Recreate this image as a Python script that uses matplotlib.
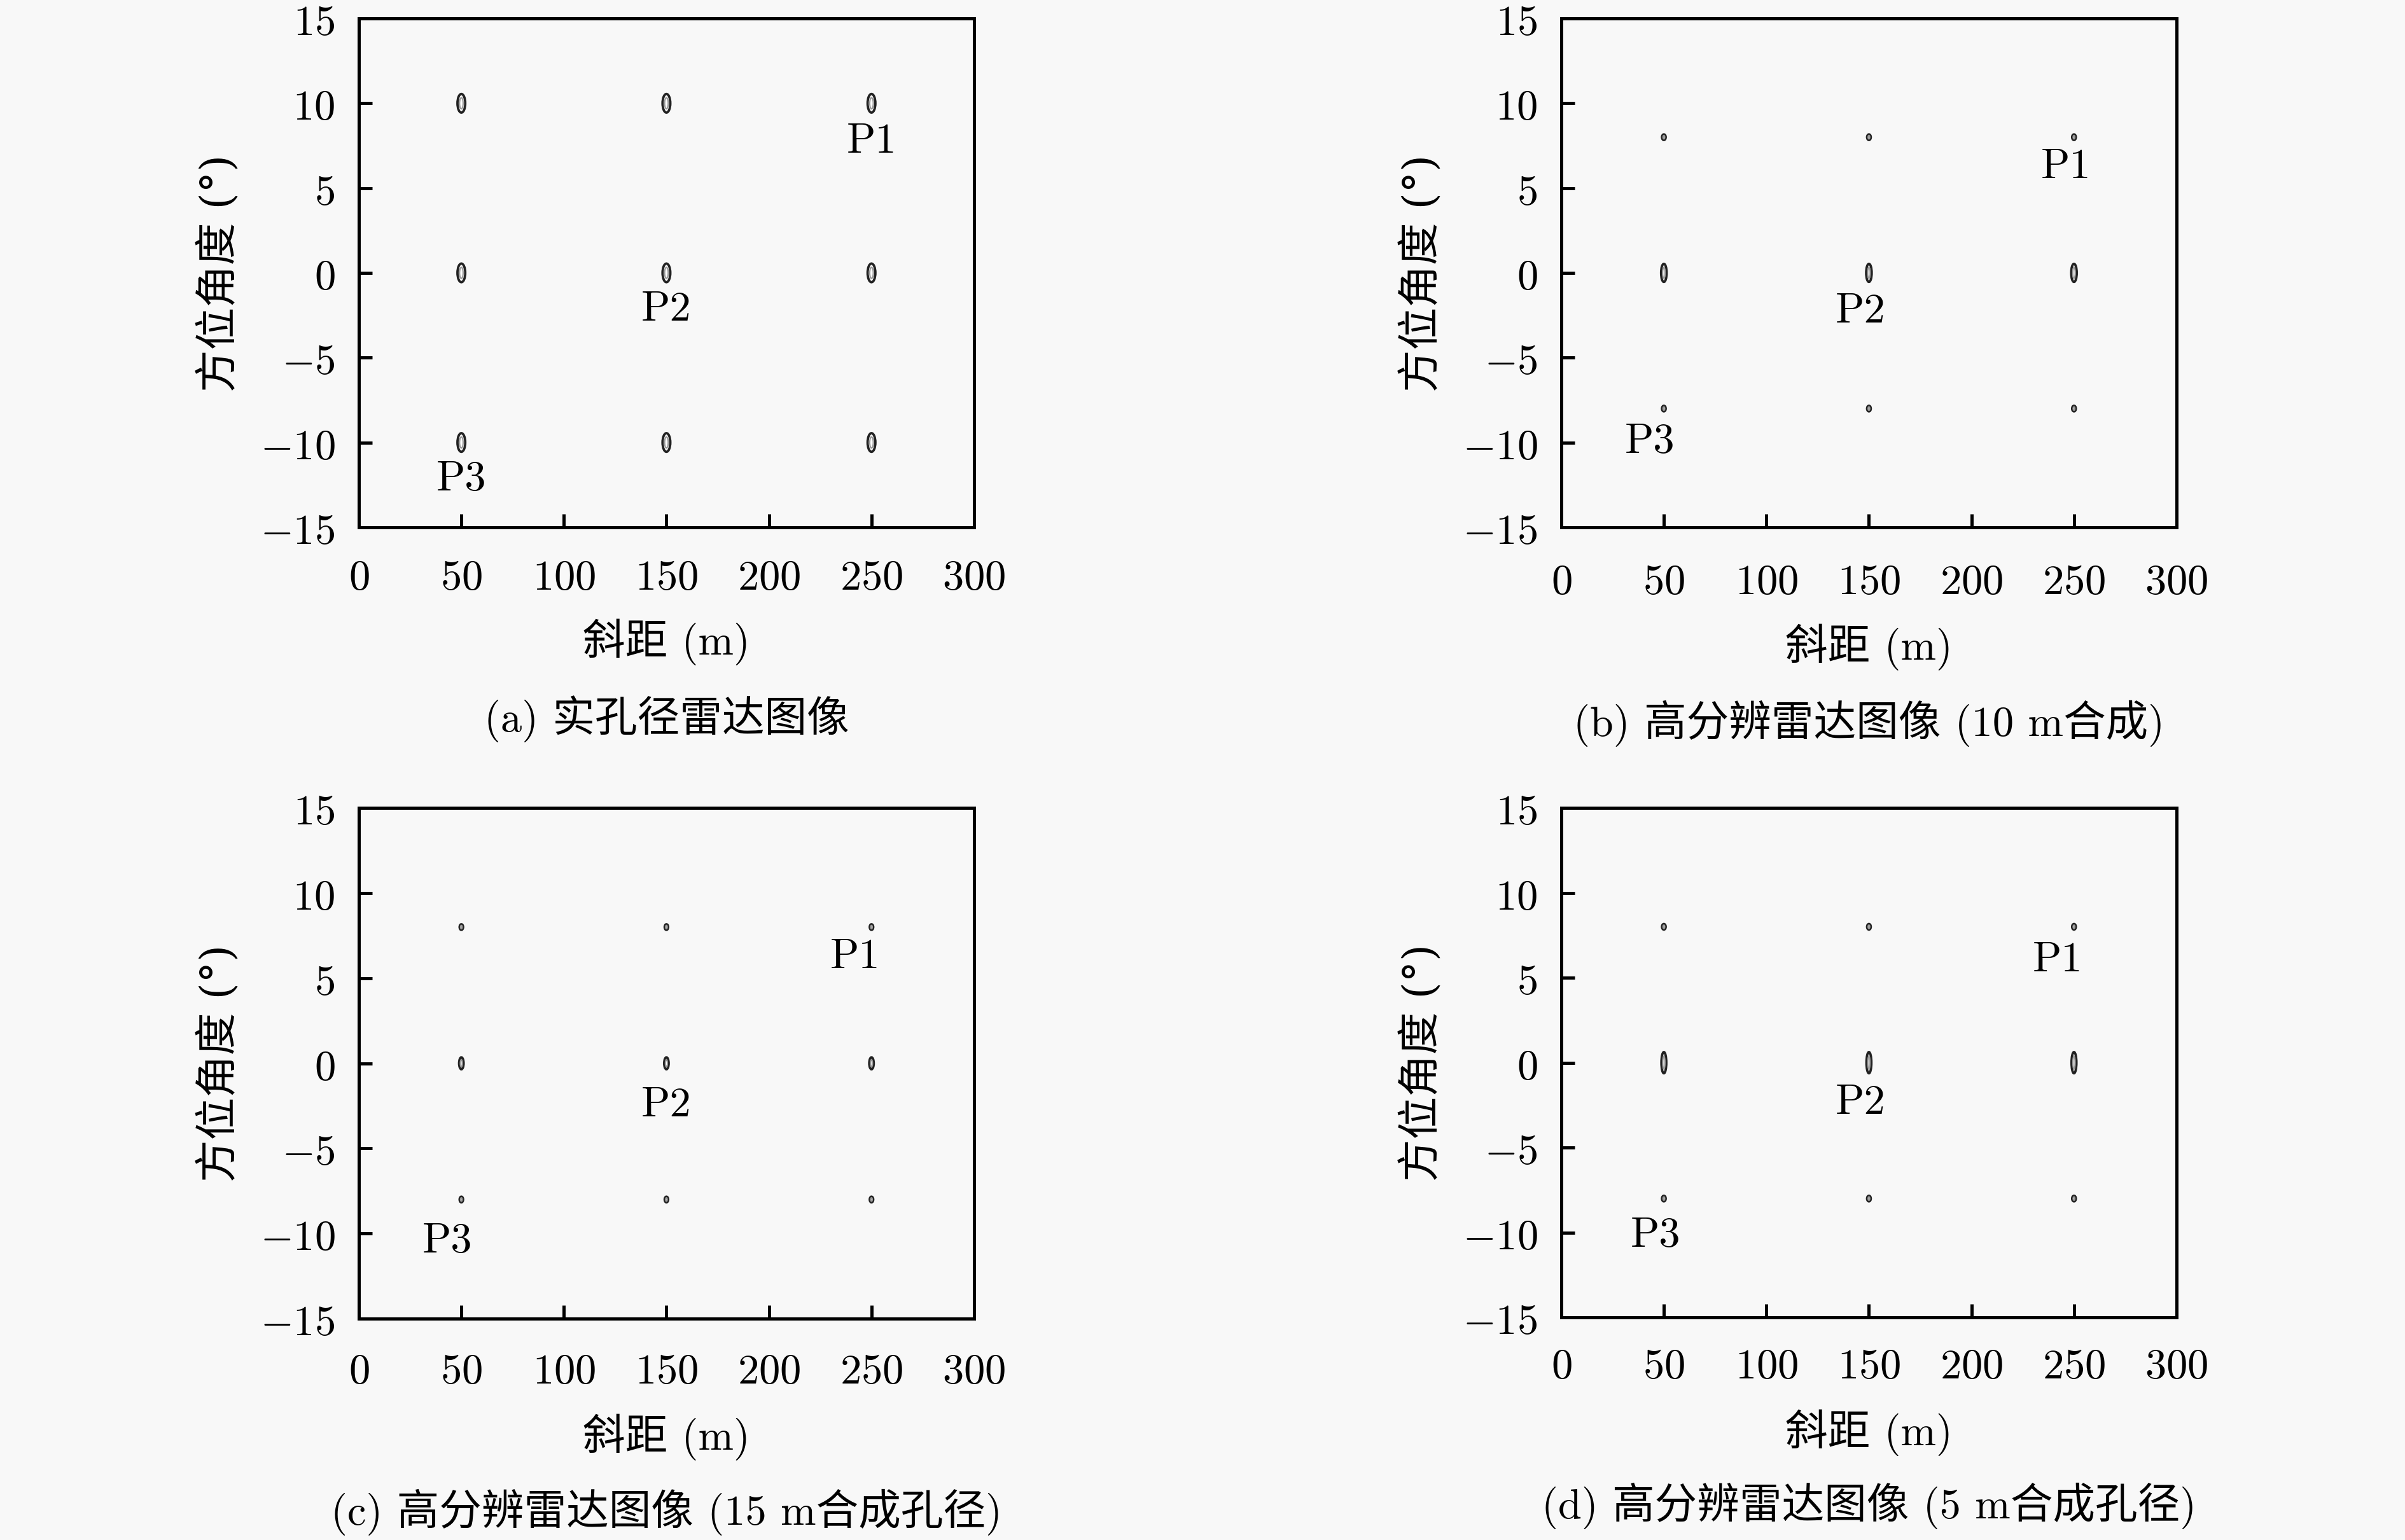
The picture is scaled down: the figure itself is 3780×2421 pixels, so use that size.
import matplotlib
matplotlib.use('Agg')
import matplotlib.pyplot as plt
from matplotlib.patches import Ellipse
from matplotlib.ticker import FuncFormatter

plt.rcParams['mathtext.fontset'] = 'cm'
TEXT_FONT = ['cmr10', 'Noto Sans CJK SC', 'DejaVu Sans']
# cmr10 maps U+00B0 to a ligature, so the degree label uses DejaVu Serif
YLABEL_FONT = ['DejaVu Serif', 'Noto Sans CJK SC']
BG = '#f8f8f8'

# ---- data ----
captions = ['(a) 实孔径雷达图像',
            '(b) 高分辨雷达图像 (10 m合成)',
            '(c) 高分辨雷达图像 (15 m合成孔径)',
            '(d) 高分辨雷达图像 (5 m合成孔径)']
x_label = '斜距 (m)'
y_label = '方位角度 (°)'

target_range = [50, 150, 250]
target_azimuth = [[10, 0, -10], [8, 0, -8], [8, 0, -8], [8, 0, -8]]

# spot extent per row of targets (range in m, azimuth in deg)
spot_w = [[3.8, 3.8, 3.8], [1.8, 2.7, 1.8], [1.7, 2.2, 1.7], [1.8, 2.4, 1.8]]
spot_h = [[1.1, 1.1, 1.1], [0.33, 1.07, 0.33], [0.33, 0.7, 0.33], [0.33, 1.25, 0.33]]

point_names = ['P1', 'P2', 'P3']
name_x = [[250, 150, 50], [246, 146, 43], [242, 150, 43], [242, 146, 46]]
name_y = [[7.7, -2.2, -12.2], [6.2, -2.3, -10.0], [6.2, -2.5, -10.5], [6.0, -2.4, -10.2]]

x_ticks = [0, 50, 100, 150, 200, 250, 300]
y_ticks = [-15, -10, -5, 0, 5, 10, 15]

# ---- layout ----
axes_rects = [
    [0.1492, 0.6576, 0.2558, 0.3304],
    [0.6492, 0.6576, 0.2558, 0.3304],
    [0.1492, 0.1437, 0.2558, 0.3317],
    [0.6492, 0.1445, 0.2558, 0.3309],
]
caption_y = [0.533, 0.530, 0.018, 0.022]
xtick_pad = [11, 12.7, 12, 10.6]
xlabel_y = [-0.226, -0.235, -0.232, -0.226]

fig = plt.figure(figsize=(12.6, 8.07), dpi=300, facecolor=BG)
mfmt = FuncFormatter(lambda v, p: f'${v:g}$')

for k, rect in enumerate(axes_rects):
    ax = fig.add_axes(rect, facecolor=BG)
    ax.set_xlim(0, 300)
    ax.set_ylim(-15, 15)
    ax.set_xticks(x_ticks)
    ax.set_yticks(y_ticks)
    ax.xaxis.set_major_formatter(mfmt)
    ax.yaxis.set_major_formatter(mfmt)
    ax.tick_params(direction='in', length=5, width=1.2, labelsize=16,
                   top=False, right=False)
    ax.tick_params(axis='x', pad=xtick_pad[k])
    ax.tick_params(axis='y', pad=9)
    for s in ax.spines.values():
        s.set_linewidth(1.2)

    # target responses
    for r, az in enumerate(target_azimuth[k]):
        for x in target_range:
            ax.add_patch(Ellipse((x, az), spot_w[k][r], spot_h[k][r],
                                 facecolor='white', edgecolor='#222222', lw=0.9))
            ax.add_patch(Ellipse((x, az), spot_w[k][r] * 0.45, spot_h[k][r] * 0.6,
                                 facecolor='none', edgecolor='#999999', lw=0.5))

    for i, name in enumerate(point_names):
        ax.text(name_x[k][i], name_y[k][i], name, ha='center', va='center',
                fontsize=16, family=TEXT_FONT)

    ax.set_xlabel(x_label, fontsize=16, family=TEXT_FONT, va='center')
    ax.xaxis.set_label_coords(0.5, xlabel_y[k])
    ax.set_ylabel(y_label, fontsize=16, family=YLABEL_FONT, va='center')
    ax.yaxis.set_label_coords(-0.227, 0.5)

    fig.text(rect[0] + rect[2] / 2, caption_y[k], captions[k], ha='center',
             va='center', fontsize=16, family=TEXT_FONT)

fig.savefig('out.png', dpi=300, facecolor=BG)
